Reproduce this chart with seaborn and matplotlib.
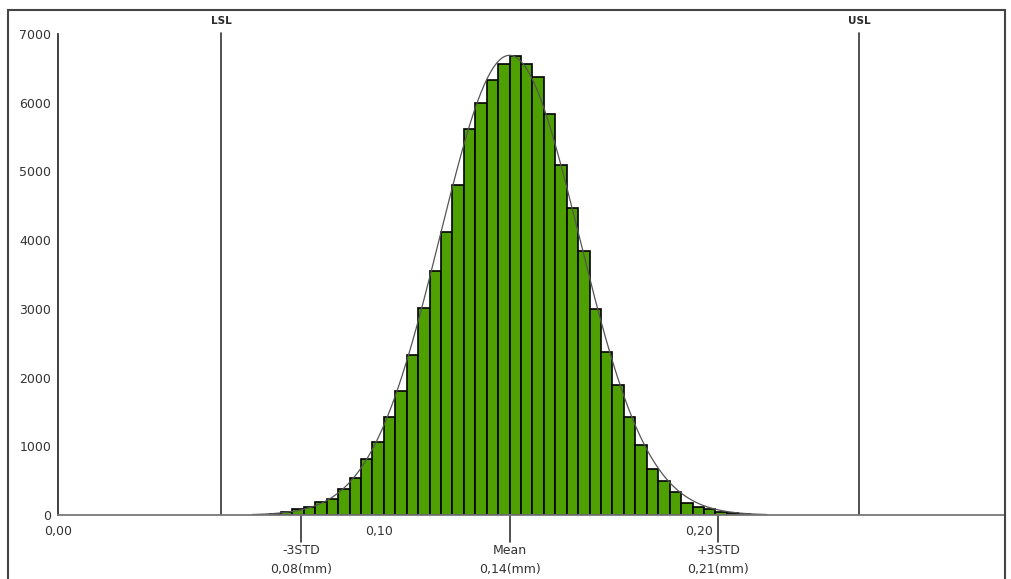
import numpy as np
import pandas as pd
import matplotlib
matplotlib.use("Agg")
from matplotlib import pyplot as plt
from matplotlib.patches import Rectangle
import seaborn as sns

# Histogram counts (left to right)
counts = [5, 15, 45, 83, 121, 194, 233, 374, 543, 810, 1067, 1422, 1810, 2329,
          3008, 3550, 4120, 4800, 5613, 6000, 6330, 6563, 6680, 6563, 6369, 5831,
          5094, 4463, 3840, 2993, 2377, 1892, 1421, 1019, 665, 500, 340, 170, 121,
          83, 39, 24, 10, 5]
bin_start = 0.06234
bin_width = 0.003567

# Statistics / limits
mean_val = 0.1408
std_val = 0.0217
curve_peak = 6690
lsl = 0.0508
usl = 0.2498

y_ticks = [0, 1000, 2000, 3000, 4000, 5000, 6000, 7000]
x_ticks = [0.0, 0.10, 0.20]
x_tick_labels = ["0,00", "0,10", "0,20"]
stat_names = ["-3STD", "Mean", "+3STD"]
stat_labels = ["0,08(mm)", "0,14(mm)", "0,21(mm)"]

sns.set_style("white")
plt.rcParams['font.family'] = ['DejaVu Sans']

W, H = 1011, 579
fig = plt.figure(figsize=(W / 100, H / 100), dpi=100)
ax = fig.add_axes([58.3 / W, (H - 515) / H, (1005 - 58.3) / W, (515 - 10) / H])

edges = bin_start + bin_width * np.arange(len(counts) + 1)
df = pd.DataFrame({"value": (edges[:-1] + edges[1:]) / 2, "count": counts})
sns.histplot(data=df, x="value", weights="count", bins=list(edges),
             color="#4ea000", edgecolor="black", linewidth=1.2, alpha=1, ax=ax)

# fitted normal curve
xs = np.linspace(mean_val - 3.7 * std_val, mean_val + 3.7 * std_val, 300)
ys = curve_peak * np.exp(-0.5 * ((xs - mean_val) / std_val) ** 2)
ax.plot(xs, ys, color="#555555", lw=0.9)

xmax = (1005 - 58.3) / 3205
ymax = 7000 * 505 / 481
ax.set_xlim(0, xmax)
ax.set_ylim(0, ymax)

# LSL / USL
for val, name in [(lsl, "LSL"), (usl, "USL")]:
    ax.plot([val, val], [0, 7015], color="#333333", lw=1.2)
    ax.text(val, 7190, name, ha="center", va="center", fontsize=7.5,
            fontweight="bold", color="#2a2a2a")

for s in ["top", "right"]:
    ax.spines[s].set_visible(False)
ax.spines["left"].set_bounds(0, 7000)
ax.spines["left"].set_color("#333333")
ax.spines["left"].set_linewidth(1.3)
ax.spines["bottom"].set_color("#777777")
ax.spines["bottom"].set_linewidth(1.3)

ax.set_yticks(y_ticks)
ax.set_yticklabels([str(v) for v in y_ticks])
ax.set_xticks(x_ticks)
ax.set_xticklabels(x_tick_labels)
ax.tick_params(axis="y", length=3, width=1, color="#333333", pad=2,
               labelsize=9, labelcolor="#333333")
ax.tick_params(axis="x", length=5, width=1, color="#333333", pad=2,
               labelsize=9, labelcolor="#333333")
ax.set_xlabel("")
ax.set_ylabel("")

# -3STD / Mean / +3STD markers below the axis
stat_pos = [mean_val - 3 * std_val, mean_val, mean_val + 3 * std_val]
for pos, nm, lab in zip(stat_pos, stat_names, stat_labels):
    ax.plot([pos, pos], [0, -27 * 7000 / 481], color="#333333", lw=1.2,
            clip_on=False)
    ax.text(pos, -35 * 7000 / 481, nm, ha="center", va="center", fontsize=9,
            color="#333333")
    ax.text(pos, -55 * 7000 / 481, lab, ha="center", va="center", fontsize=9,
            color="#333333")

# outer frame
fig.add_artist(Rectangle((8 / W, -0.1), (1005 - 8) / W, 1.1 - 10 / H,
                         transform=fig.transFigure, fill=False,
                         edgecolor="#444444", lw=1.5))

plt.savefig("out.png", dpi=100)
plt.close()
